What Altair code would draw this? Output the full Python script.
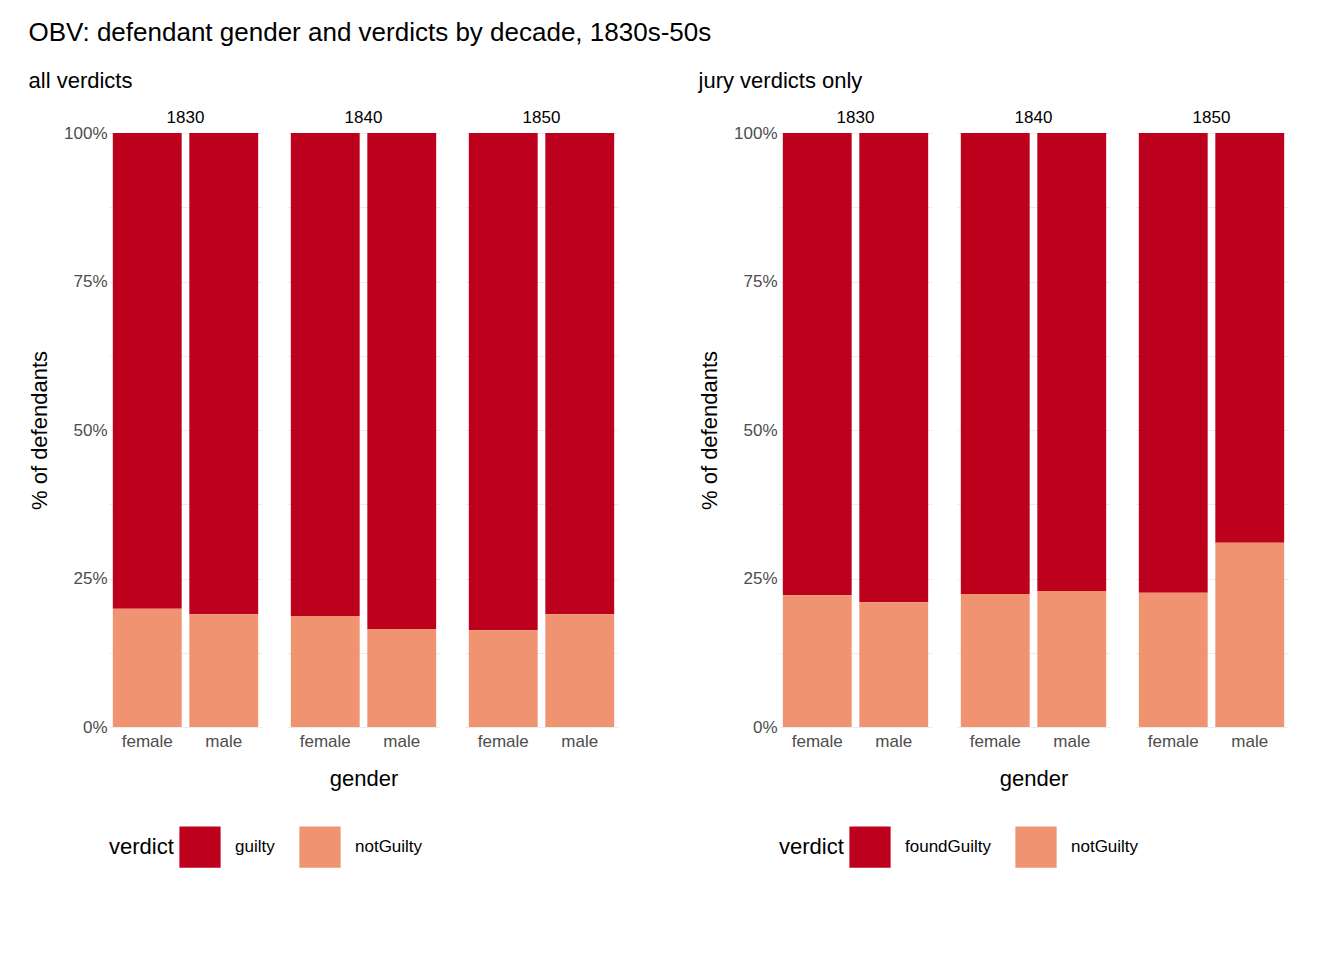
import altair as alt
import pandas as pd

decades = ["1830", "1840", "1850"]
genders = ["female", "male"]
# share of defendants not guilty, per decade x gender (female, male)
all_not_guilty = [0.199, 0.190, 0.187, 0.165, 0.163, 0.190]
all_guilty = [0.801, 0.810, 0.813, 0.835, 0.837, 0.810]
jury_not_guilty = [0.222, 0.210, 0.224, 0.229, 0.226, 0.310]
jury_found_guilty = [0.778, 0.790, 0.776, 0.771, 0.774, 0.690]

FONT = "Liberation Sans"
RED, SALMON = "#BD001C", "#EF9370"


def build(guilty_label, guilty, not_guilty):
    rows = []
    i = 0
    for d in decades:
        for g in genders:
            rows.append({"decade": d, "gender": g, "verdict": guilty_label, "pct": guilty[i], "ord": 2})
            rows.append({"decade": d, "gender": g, "verdict": "notGuilty", "pct": not_guilty[i], "ord": 1})
            i += 1
    return pd.DataFrame(rows)


def panel(df, guilty_label, subtitle):
    ticks = [k * 0.125 for k in range(9)]
    base = alt.Chart(df).mark_bar().encode(
        x=alt.X("gender:N", title=None,
                scale=alt.Scale(paddingInner=0.1, paddingOuter=0.05),
                axis=alt.Axis(labelAngle=0, labelFontSize=17, labelColor="#4d4d4d",
                              ticks=False, domain=False, labelPadding=6)),
        y=alt.Y("pct:Q", title="% of defendants", stack="zero",
                scale=alt.Scale(domain=[0, 1], nice=False),
                axis=alt.Axis(values=ticks, format=".0%",
                              labelExpr="(datum.value * 100) % 25 == 0 ? datum.label : ''",
                              labelFontSize=17, labelColor="#4d4d4d", titleFontSize=22,
                              titleFontWeight="normal", titleColor="black",
                              ticks=False, domain=False, gridColor="#ebebeb", titlePadding=12)),
        color=alt.Color("verdict:N",
                        scale=alt.Scale(domain=[guilty_label, "notGuilty"], range=[RED, SALMON]),
                        legend=alt.Legend(orient="bottom", direction="horizontal",
                                          titleOrient="left", title="verdict",
                                          titleFontSize=22, titleFontWeight="normal",
                                          labelFontSize=17, symbolType="square",
                                          symbolSize=1700, symbolStrokeWidth=0,
                                          symbolOpacity=1, columnPadding=24,
                                          labelOffset=14, offset=36, padding=0)),
        order=alt.Order("ord:Q"),
    ).properties(width=153, height=594)
    return base.facet(
        column=alt.Column("decade:N", sort=decades,
                          header=alt.Header(title="gender", titleOrient="bottom",
                                            titleFontSize=22, titleFontWeight="normal",
                                            titleColor="black", labelFontSize=17,
                                            labelOrient="top", labelPadding=6)),
        spacing=25,
        title=alt.Title(subtitle, anchor="start", fontSize=22, fontWeight="normal", offset=16),
    )


left = panel(build("guilty", all_guilty, all_not_guilty), "guilty", "all verdicts")
right = panel(build("foundGuilty", jury_found_guilty, jury_not_guilty), "foundGuilty", "jury verdicts only")

chart = alt.hconcat(left, right, spacing=80).resolve_scale(color="independent").properties(
    title=alt.Title("OBV: defendant gender and verdicts by decade, 1830s-50s",
                    anchor="start", fontSize=26, fontWeight="normal", offset=24),
    padding={"left": 20, "top": 12, "right": 5, "bottom": 5},
).configure(font=FONT).configure_view(stroke=None)

chart.save("out.html", embed_options={"renderer": "svg", "actions": False})
